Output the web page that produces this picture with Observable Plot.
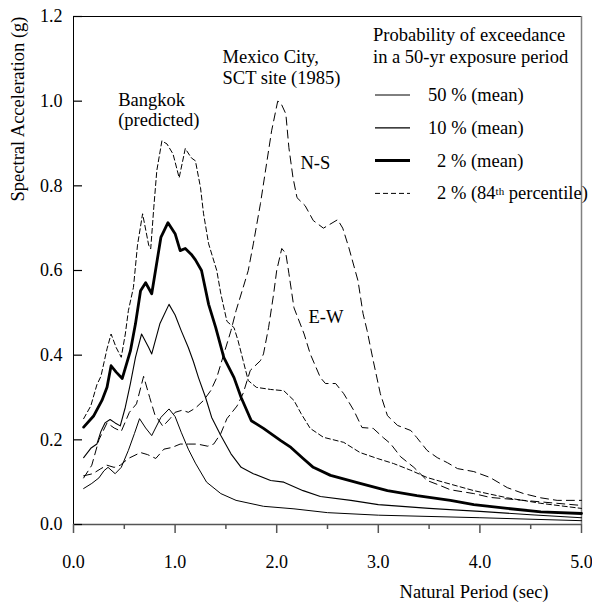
<!DOCTYPE html>
<html><head><meta charset="utf-8">
<script src="https://cdn.jsdelivr.net/npm/d3@7"></script>
<script src="https://cdn.jsdelivr.net/npm/@observablehq/plot@0.6"></script>
<style>
body{margin:0;background:#fff;}
#wrap{position:relative;width:592px;height:602px;font-family:"Liberation Serif","Times New Roman",Times,serif;color:#000;}
#legend{position:absolute;left:0;top:0;width:592px;height:602px;pointer-events:none;font-size:18.5px;}
#legend .t{position:absolute;white-space:nowrap;line-height:22px;}
#legend svg{position:absolute;left:0;top:0;}
sup{font-size:11px;vertical-align:top;position:relative;top:-2px;}
</style></head><body><div id="wrap"><div id="chart"></div><div id="legend"></div></div>
<script>
// Bangkok (predicted) spectra: [period (sec), spectral acceleration (g)]
const bkk50mean = [[0.1,0.085],[0.18,0.097],[0.25,0.11],[0.3,0.127],[0.34,0.135],[0.41,0.12],[0.47,0.135],[0.54,0.175],[0.6,0.215],[0.65,0.25],[0.71,0.228],[0.77,0.21],[0.86,0.253],[0.94,0.273],[1.0,0.255],[1.06,0.218],[1.13,0.178],[1.2,0.145],[1.31,0.1],[1.45,0.073],[1.6,0.057],[1.87,0.043],[2.17,0.037],[2.5,0.028],[3.0,0.022],[4.0,0.016],[5.0,0.009]];
const bkk10mean = [[0.1,0.158],[0.17,0.18],[0.23,0.19],[0.27,0.22],[0.31,0.24],[0.36,0.248],[0.41,0.24],[0.46,0.233],[0.51,0.277],[0.56,0.333],[0.61,0.395],[0.67,0.45],[0.74,0.418],[0.77,0.403],[0.85,0.474],[0.94,0.52],[1.0,0.495],[1.06,0.458],[1.13,0.418],[1.18,0.385],[1.23,0.347],[1.3,0.3],[1.36,0.253],[1.45,0.21],[1.55,0.167],[1.65,0.135],[1.77,0.12],[1.94,0.104],[2.07,0.1],[2.26,0.08],[2.43,0.066],[2.73,0.057],[3.0,0.047],[3.5,0.038],[4.0,0.031],[4.5,0.023],[5.0,0.016]];
const bkk2mean = [[0.1,0.23],[0.2,0.257],[0.28,0.293],[0.33,0.324],[0.37,0.375],[0.42,0.36],[0.48,0.345],[0.56,0.41],[0.61,0.474],[0.66,0.552],[0.71,0.571],[0.77,0.545],[0.86,0.678],[0.93,0.713],[1.0,0.687],[1.05,0.647],[1.1,0.652],[1.16,0.638],[1.2,0.625],[1.26,0.6],[1.33,0.52],[1.4,0.465],[1.48,0.394],[1.58,0.347],[1.65,0.3],[1.75,0.245],[1.87,0.227],[2.04,0.198],[2.14,0.182],[2.26,0.156],[2.36,0.135],[2.53,0.116],[2.82,0.097],[3.09,0.08],[3.38,0.068],[3.71,0.057],[3.94,0.047],[4.27,0.038],[4.6,0.03],[5.0,0.026]];
const bkk2p84 = [[0.1,0.25],[0.17,0.28],[0.23,0.33],[0.27,0.35],[0.33,0.415],[0.37,0.45],[0.42,0.418],[0.47,0.395],[0.51,0.45],[0.54,0.505],[0.59,0.56],[0.63,0.66],[0.68,0.734],[0.74,0.66],[0.76,0.651],[0.79,0.748],[0.82,0.836],[0.87,0.906],[0.92,0.899],[0.98,0.875],[1.04,0.819],[1.1,0.888],[1.16,0.866],[1.2,0.859],[1.25,0.796],[1.28,0.734],[1.33,0.663],[1.41,0.6],[1.45,0.545],[1.51,0.48],[1.58,0.465],[1.62,0.434],[1.67,0.387],[1.72,0.34],[1.8,0.324],[1.94,0.319],[2.07,0.316],[2.17,0.293],[2.24,0.262],[2.33,0.227],[2.46,0.206],[2.66,0.194],[2.82,0.17],[2.99,0.156],[3.15,0.144],[3.32,0.128],[3.48,0.111],[3.64,0.1],[3.94,0.08],[4.27,0.063],[4.6,0.05],[5.0,0.038]];
// Mexico City, SCT site (1985) records
const mexNS = [[0.1,0.11],[0.18,0.14],[0.25,0.2],[0.33,0.24],[0.4,0.228],[0.47,0.22],[0.55,0.265],[0.62,0.285],[0.69,0.35],[0.75,0.3],[0.8,0.26],[0.88,0.232],[0.95,0.25],[1.0,0.265],[1.07,0.27],[1.13,0.265],[1.2,0.275],[1.28,0.293],[1.35,0.316],[1.41,0.347],[1.48,0.403],[1.55,0.458],[1.6,0.505],[1.67,0.56],[1.72,0.6],[1.77,0.663],[1.84,0.758],[1.9,0.852],[1.95,0.93],[2.01,1.0],[2.04,0.996],[2.09,0.97],[2.12,0.89],[2.16,0.82],[2.2,0.772],[2.28,0.753],[2.36,0.718],[2.46,0.7],[2.6,0.72],[2.65,0.7],[2.71,0.654],[2.8,0.576],[2.85,0.498],[2.89,0.458],[2.95,0.387],[3.02,0.309],[3.09,0.257],[3.19,0.234],[3.32,0.222],[3.38,0.205],[3.48,0.175],[3.58,0.158],[3.68,0.146],[3.78,0.132],[3.94,0.125],[4.1,0.111],[4.27,0.087],[4.43,0.073],[4.6,0.063],[4.76,0.057],[5.0,0.057]];
const mexEW = [[0.1,0.115],[0.19,0.12],[0.27,0.132],[0.33,0.14],[0.4,0.135],[0.46,0.14],[0.54,0.156],[0.66,0.17],[0.73,0.165],[0.81,0.156],[0.89,0.178],[0.97,0.182],[1.05,0.19],[1.13,0.19],[1.22,0.19],[1.32,0.185],[1.38,0.19],[1.45,0.215],[1.51,0.25],[1.61,0.28],[1.67,0.31],[1.74,0.364],[1.84,0.387],[1.87,0.403],[1.92,0.465],[1.97,0.545],[2.0,0.6],[2.05,0.652],[2.09,0.64],[2.12,0.593],[2.17,0.512],[2.27,0.45],[2.33,0.403],[2.43,0.347],[2.48,0.333],[2.58,0.333],[2.66,0.309],[2.76,0.269],[2.84,0.229],[2.95,0.227],[3.05,0.205],[3.12,0.191],[3.22,0.16],[3.35,0.135],[3.48,0.104],[3.61,0.092],[3.71,0.082],[3.94,0.073],[4.1,0.064],[4.43,0.057],[5.0,0.045]];

const yTicks = [0, 0.2, 0.4, 0.6, 0.8, 1.0, 1.2];
const xTicks = [0, 1, 2, 3, 4, 5];
const xMinorTicks = [0.5, 1.5, 2.5, 3.5, 4.5];

const annotations = [
  {x: 0.44, y: 0.98, text: "Bangkok\n(predicted)"},
  {x: 1.467, y: 1.081, text: "Mexico City,\nSCT site (1985)"},
  {x: 2.234, y: 0.855, text: "N-S"},
  {x: 2.313, y: 0.491, text: "E-W"}
];

const legendTitle = ["Probability of exceedance", "in a 50-yr exposure period"];
const legendItems = [
  {label: "50 % (mean)", width: 1, dash: null, indent: 0},
  {label: "10 % (mean)", width: 1.3, dash: null, indent: 0},
  {label: "2 % (mean)", width: 3, dash: null, indent: 9},
  {label: "2 % (84<sup>th</sup> percentile)", width: 1, dash: "5,3", indent: 9}
];

const X = d => d[0], Y = d => d[1];
const font = "'Liberation Serif', 'Times New Roman', Times, serif";
const W = 592, H = 602, ML = 73, MR = 11, MT = 16, MB = 78;
const frameWidth = W - ML - MR;

const chart = Plot.plot({
  width: W, height: H,
  marginLeft: ML, marginRight: MR, marginTop: MT, marginBottom: MB,
  style: {fontFamily: font, fontSize: "18px", color: "black", background: "white"},
  x: {domain: [0, 5]},
  y: {domain: [0, 1.2]},
  marks: [
    Plot.frame({stroke: "black", strokeWidth: 1}),
    Plot.ruleX([5], {stroke: "#808080", strokeWidth: 1.5}),
    Plot.ruleY([0], {stroke: "#555", strokeWidth: 1.5}),
    Plot.axisY(yTicks, {tickSize: 0, tickPadding: 11, tickFormat: d3.format(".1f"), fontSize: 18, fontFamily: font, label: null}),
    Plot.tickY(yTicks, {y: d => d, insetRight: frameWidth - 9, stroke: "black", strokeWidth: 1.2}),
    Plot.axisX(xTicks, {tickSize: 9, tickPadding: 22, stroke: "#555", strokeWidth: 1.5, tickFormat: d3.format(".1f"), fontSize: 18, fontFamily: font, label: null}),
    Plot.axisX(xMinorTicks, {tickSize: 5, stroke: "#555", strokeWidth: 1.5, tickFormat: () => "", label: null}),
    Plot.line(mexNS, {x: X, y: Y, stroke: "black", strokeWidth: 1, strokeDasharray: "8,5"}),
    Plot.line(mexEW, {x: X, y: Y, stroke: "black", strokeWidth: 1, strokeDasharray: "8,5"}),
    Plot.line(bkk2p84, {x: X, y: Y, stroke: "black", strokeWidth: 1, strokeDasharray: "5,3"}),
    Plot.line(bkk50mean, {x: X, y: Y, stroke: "black", strokeWidth: 1}),
    Plot.line(bkk10mean, {x: X, y: Y, stroke: "black", strokeWidth: 1.1}),
    Plot.line(bkk2mean, {x: X, y: Y, stroke: "black", strokeWidth: 2.8}),
    Plot.text(annotations, {x: "x", y: "y", text: "text", textAnchor: "start", lineAnchor: "middle", lineHeight: 1.1, fontSize: 18.5, fontFamily: font, fill: "black"}),
    Plot.text(["Spectral Acceleration (g)"], {frameAnchor: "top-left", rotate: -90, textAnchor: "end", lineAnchor: "middle", dx: -55, fontSize: 18.5, fontFamily: font, fill: "black"}),
    Plot.text(["Natural Period (sec)"], {frameAnchor: "bottom-right", textAnchor: "end", lineAnchor: "middle", dx: -33, dy: 68, fontSize: 18.5, fontFamily: font, fill: "black"})
  ]
});
document.getElementById("chart").appendChild(chart);

// Legend overlay
const leg = document.getElementById("legend");
legendTitle.forEach((t, i) => {
  const d = document.createElement("div");
  d.className = "t"; d.textContent = t;
  d.style.left = "373px"; d.style.top = (24 + i * 22) + "px";
  leg.appendChild(d);
});
const ns = "http://www.w3.org/2000/svg";
const svg = document.createElementNS(ns, "svg");
svg.setAttribute("width", W); svg.setAttribute("height", H);
leg.appendChild(svg);
legendItems.forEach((it, i) => {
  const cy = 95 + i * 32.8;
  const ln = document.createElementNS(ns, "line");
  ln.setAttribute("x1", 375); ln.setAttribute("x2", 410);
  ln.setAttribute("y1", cy); ln.setAttribute("y2", cy);
  ln.setAttribute("stroke", "black"); ln.setAttribute("stroke-width", it.width);
  if (it.dash) ln.setAttribute("stroke-dasharray", it.dash);
  svg.appendChild(ln);
  const d = document.createElement("div");
  d.className = "t"; d.innerHTML = it.label;
  d.style.left = (428 + it.indent) + "px"; d.style.top = (cy - 11) + "px";
  leg.appendChild(d);
});
</script></body></html>
